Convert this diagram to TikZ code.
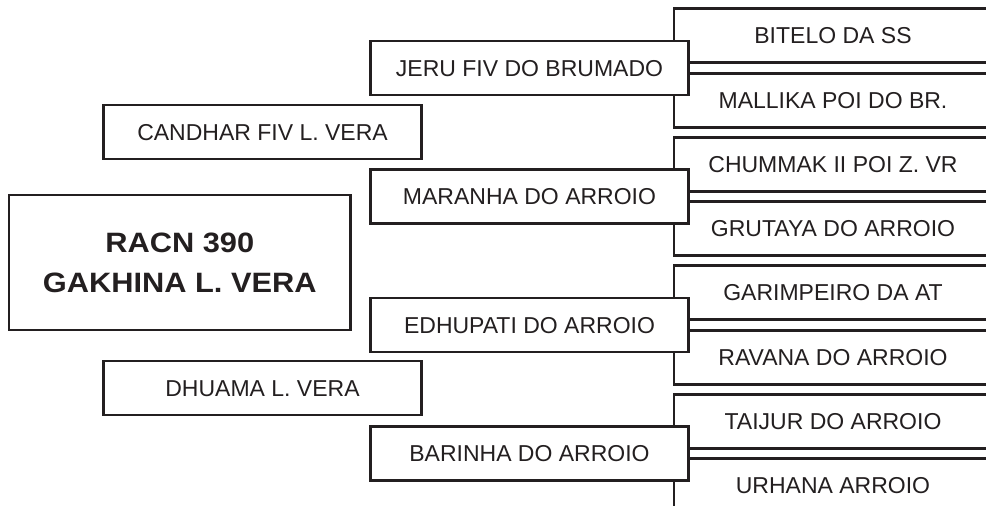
\documentclass[tikz,border=0pt]{standalone}
\usepackage{fontspec}
\setmainfont{Liberation Sans}
\newfontfamily\headfont[FakeStretch=1.1]{Liberation Sans}
\usepackage{xcolor}
\usetikzlibrary{positioning}

\definecolor{ink}{HTML}{231F20}

\tikzset{
    namebox/.style={draw=ink, line width=2.6pt, fill=white, rectangle,
        minimum width=318pt, minimum height=54pt, inner sep=0pt,
        text=ink, text height=16.5pt, text depth=0pt,
        font=\fontsize{23}{27}\selectfont},
    mainbox/.style={draw=ink, line width=2.6pt, fill=white, rectangle,
        minimum width=341.5pt, minimum height=135pt, inner sep=0pt,
        text=ink, align=center,
        font=\headfont\bfseries\fontsize{28}{40}\selectfont}
}

\begin{document}
\begin{tikzpicture}[x=1pt,y=-1pt]
    \def\rx{833}
    \def\mx{529.5}
    \def\lx{262.5}

    \clip (0,0) rectangle (986,506);

    \node[namebox] (bitelo)   at (\rx,35.7)  {BITELO DA SS};
    \node[namebox] (mallika)  at (\rx,100.2) {MALLIKA POI DO BR.};
    \node[namebox] (chummak)  at (\rx,164.2) {CHUMMAK II POI Z. VR};
    \node[namebox] (grutaya)  at (\rx,228.7) {GRUTAYA DO ARROIO};
    \node[namebox] (garimp)   at (\rx,292.7) {GARIMPEIRO DA AT};
    \node[namebox] (ravana)   at (\rx,357.2) {RAVANA DO ARROIO};
    \node[namebox] (taijur)   at (\rx,421.2) {TAIJUR DO ARROIO};
    \node[namebox] (urhana)   at (\rx,485.7) {URHANA ARROIO};

    \node[namebox] (jeru)     at (\mx,68)    {JERU FIV DO BRUMADO};
    \node[namebox] (maranha)  at (\mx,196.5) {MARANHA DO ARROIO};
    \node[namebox] (edhupati) at (\mx,325)   {EDHUPATI DO ARROIO};
    \node[namebox] (barinha)  at (\mx,453.5) {BARINHA DO ARROIO};

    \node[namebox] (candhar)  at (\lx,132)   {CANDHAR FIV L. VERA};
    \node[namebox] (dhuama)   at (\lx,388)   {DHUAMA L. VERA};

    \node[mainbox] (racn)     at (179.75,262.5) {RACN 390\\GAKHINA L. VERA};

\end{tikzpicture}
\end{document}
